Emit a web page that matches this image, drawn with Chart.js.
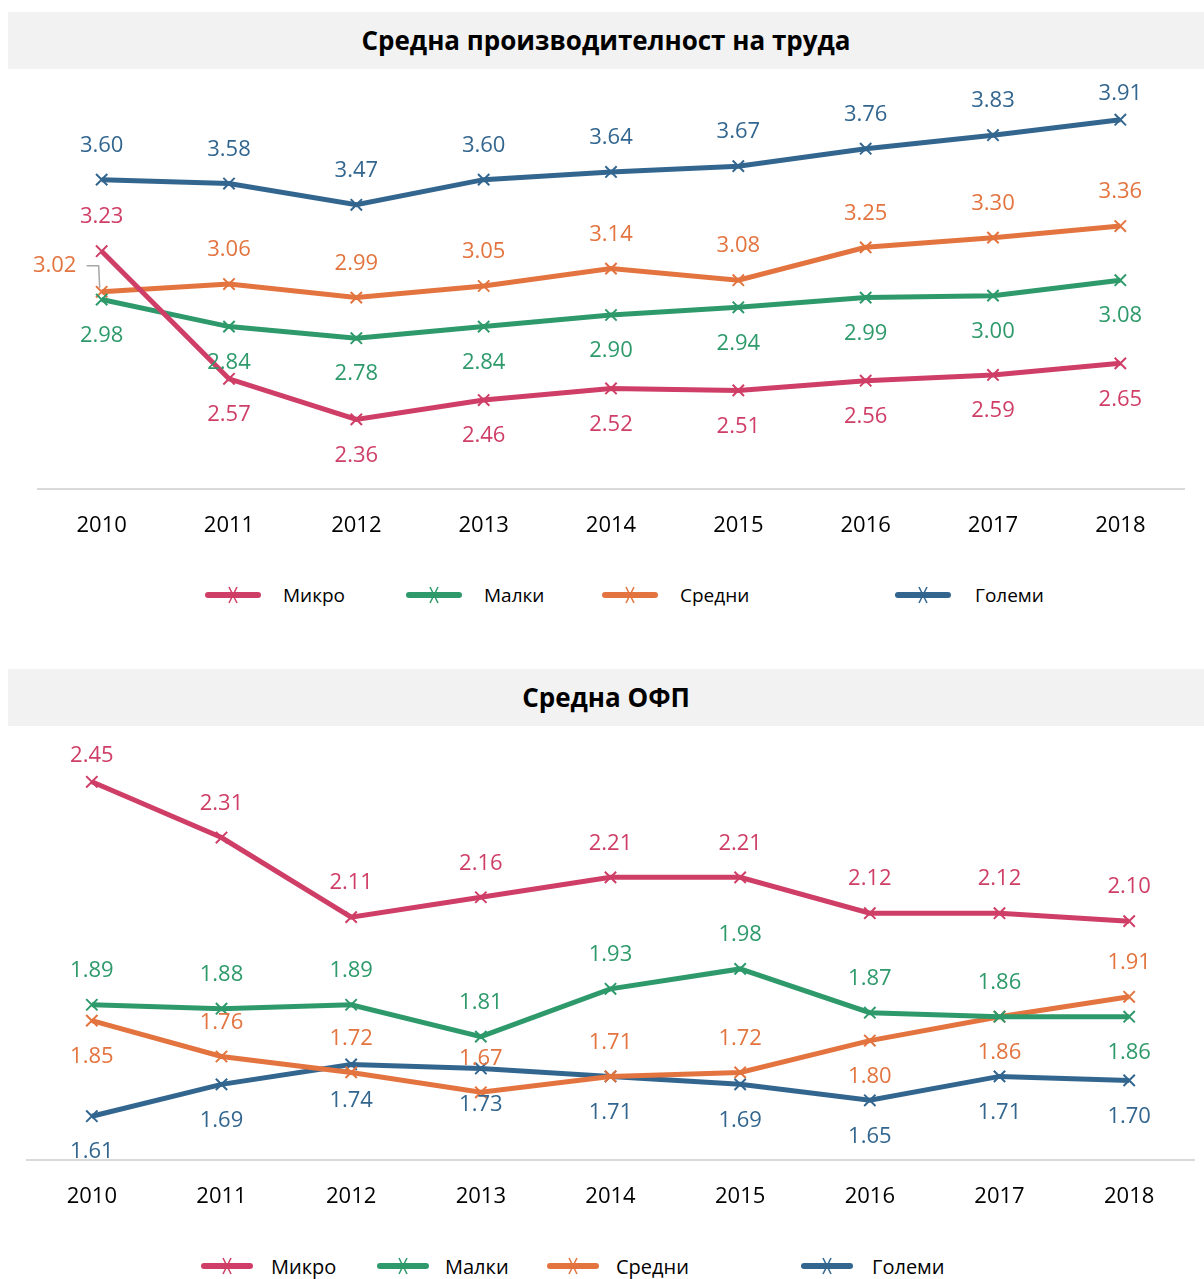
<!DOCTYPE html>
<html lang="bg">
<head>
  <meta charset="UTF-8" />
  <title>Средна производителност на труда / Средна ОФП</title>
  <script src="https://cdn.jsdelivr.net/npm/chart.js"></script>
  <style>
    body { margin: 0; background: #fff; font-family: "Open Sans", sans-serif; }
    #page { position: relative; width: 1204px; height: 1279px; overflow: hidden; }
    .bar { position: absolute; left: 8px; width: 1196px; background: #f2f2f2; text-align: center;
           font-weight: bold; font-size: 26px; color: #000; }
    canvas { position: absolute; left: 0; }
    .lg { position: absolute; display: flex; align-items: center; font-size: 19px; color: #000; }
    .lg svg { position: absolute; left: 0; top: 50%; transform: translateY(-50%); }
    .lg span { position: absolute; white-space: nowrap; transform: translateY(-50%); top: 50%; }
  </style>
</head>
<body>
<div id="page">
  <div class="bar" style="top:12px;height:57px;line-height:57px;">Средна производителност на труда</div>
  <canvas id="c1" width="1204" height="490" style="top:70px"></canvas>
  <div id="lg1"></div>

  <div class="bar" style="top:669px;height:57px;line-height:57px;">Средна ОФП</div>
  <canvas id="c2" width="1204" height="504" style="top:726px"></canvas>
  <div id="lg2"></div>
</div>

<script>
  // categories
  const years = ["2010", "2011", "2012", "2013", "2014", "2015", "2016", "2017", "2018"];
  const seriesNames = ["Микро", "Малки", "Средни", "Големи"];

  // Средна производителност на труда
  const labMikro  = [3.23, 2.57, 2.36, 2.46, 2.52, 2.51, 2.56, 2.59, 2.65];
  const labMalki  = [2.98, 2.84, 2.78, 2.84, 2.90, 2.94, 2.99, 3.00, 3.08];
  const labSredni = [3.02, 3.06, 2.99, 3.05, 3.14, 3.08, 3.25, 3.30, 3.36];
  const labGolemi = [3.60, 3.58, 3.47, 3.60, 3.64, 3.67, 3.76, 3.83, 3.91];

  // Средна ОФП
  const tfpMikro  = [2.45, 2.31, 2.11, 2.16, 2.21, 2.21, 2.12, 2.12, 2.10];
  const tfpMalki  = [1.89, 1.88, 1.89, 1.81, 1.93, 1.98, 1.87, 1.86, 1.86];
  const tfpSredni = [1.85, 1.76, 1.72, 1.67, 1.71, 1.72, 1.80, 1.86, 1.91];
  const tfpGolemi = [1.61, 1.69, 1.74, 1.73, 1.71, 1.69, 1.65, 1.71, 1.70];

  const colors = ["#cf3e66", "#2e9a6b", "#e3743f", "#33668f"];
  const FONT = "'Open Sans', sans-serif";

  // where each value label sits: a = above, A = just above, b = below, l = left with leader
  const pos1 = [
    "abbbbbbbb",
    "bbbbbbbbb",
    "laaaaaaaa",
    "aaaaaaaaA"
  ];
  const pos2 = [
    "Aaaaaaaaa",
    "aaaaaaaab",
    "baaaaabba",
    "bbbbbbbbb"
  ];
  const offsets = { a: -34, A: -26, b: 36 };

  function valueLabels(positions) {
    return {
      id: "valueLabels",
      afterDatasetsDraw(chart) {
        const ctx = chart.ctx;
        ctx.save();
        ctx.font = "22px " + FONT;
        ctx.textAlign = "center";
        ctx.textBaseline = "middle";
        chart.data.datasets.forEach((ds, i) => {
          const meta = chart.getDatasetMeta(i);
          meta.data.forEach((pt, j) => {
            const p = positions[i][j];
            const txt = ds.data[j].toFixed(2);
            ctx.fillStyle = ds.borderColor;
            if (p === "l") {
              ctx.fillText(txt, pt.x - 47, pt.y - 26);
              ctx.strokeStyle = "#a6a6a6";
              ctx.lineWidth = 1.5;
              ctx.beginPath();
              ctx.moveTo(pt.x - 15, pt.y - 26);
              ctx.lineTo(pt.x - 3, pt.y - 26);
              ctx.lineTo(pt.x - 2, pt.y - 4);
              ctx.stroke();
            } else {
              ctx.fillText(txt, pt.x, pt.y + offsets[p]);
            }
          });
        });
        ctx.restore();
      }
    };
  }

  function makeChart(id, series, min, max, pad, axisH, positions) {
    new Chart(document.getElementById(id), {
      type: "line",
      data: {
        labels: years,
        datasets: series.map((d, i) => ({
          label: seriesNames[i],
          data: d,
          borderColor: colors[i],
          backgroundColor: colors[i],
          borderWidth: 5,
          pointStyle: "crossRot",
          pointRadius: 8,
          pointBorderWidth: 2,
          tension: 0,
          fill: false,
          clip: false
        }))
      },
      options: {
        responsive: false,
        animation: false,
        layout: { padding: pad },
        plugins: { legend: { display: false }, tooltip: { enabled: false } },
        scales: {
          x: {
            offset: true,
            grid: { display: false, drawTicks: false },
            border: { display: true, color: "#d9d9d9", width: 2 },
            ticks: { color: "#000", font: { family: FONT, size: 22 }, padding: 24 },
            afterFit(s) { s.height = axisH; }
          },
          y: { display: false, min: min, max: max }
        }
      },
      plugins: [valueLabels(positions)]
    });
  }

  makeChart("c1", [labMikro, labMalki, labSredni, labGolemi], 2.0, 4.1,
    { left: 38, right: 20, top: 13, bottom: 0 }, 71, pos1);
  makeChart("c2", [tfpMikro, tfpMalki, tfpSredni, tfpGolemi], 1.5, 2.55,
    { left: 27, right: 10, top: 16, bottom: 0 }, 70, pos2);

  function legend(el, top, lineX, textX, lineW, font) {
    const box = document.getElementById(el);
    seriesNames.forEach((name, i) => {
      const d = document.createElement("div");
      d.className = "lg";
      d.style.left = lineX[i] + "px";
      d.style.top = top + "px";
      d.style.height = "0px";
      const c = colors[i];
      d.innerHTML =
        '<svg width="' + lineW + '" height="20">' +
        '<line x1="3" y1="10" x2="' + (lineW - 3) + '" y2="10" stroke="' + c + '" stroke-width="6" stroke-linecap="round"/>' +
        '<line x1="' + (lineW / 2 - 4) + '" y1="2" x2="' + (lineW / 2 + 4) + '" y2="18" stroke="' + c + '" stroke-width="1.5"/>' +
        '<line x1="' + (lineW / 2 + 4) + '" y1="2" x2="' + (lineW / 2 - 4) + '" y2="18" stroke="' + c + '" stroke-width="1.5"/>' +
        '</svg><span style="left:' + (textX[i] - lineX[i]) + 'px;font-size:' + font + 'px">' + name + '</span>';
      box.appendChild(d);
    });
  }
  legend("lg1", 595, [205, 406, 602, 895], [283, 484, 680, 975], 56, 19);
  legend("lg2", 1266, [201, 377, 547, 801], [271, 445, 616, 872], 52, 20);
</script>
</body>
</html>
